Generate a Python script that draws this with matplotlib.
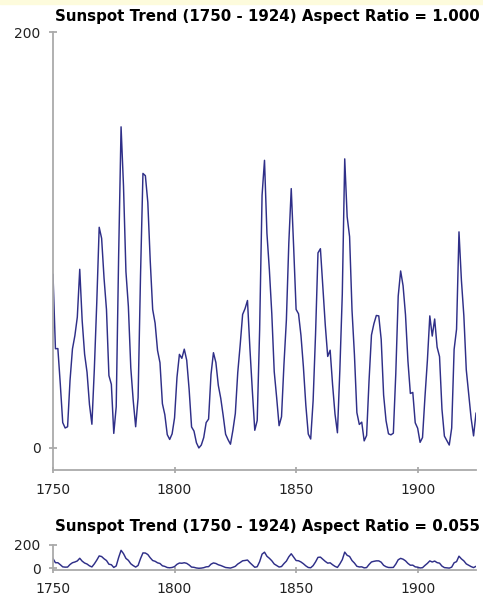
import matplotlib
matplotlib.use("Agg")
import matplotlib.pyplot as plt
from matplotlib.patches import Rectangle

# yearly mean sunspot numbers, 1750-1924
years = list(range(1750, 1925))
sunspots = [
    83.4, 47.7, 47.8, 30.7, 12.2, 9.6, 10.2, 32.4, 47.6, 54.0,
    62.9, 85.9, 61.2, 45.1, 36.4, 20.9, 11.4, 37.8, 69.8, 106.1,
    100.8, 81.6, 66.5, 34.8, 30.6, 7.0, 19.8, 92.5, 154.4, 125.9,
    84.8, 68.1, 38.5, 22.8, 10.2, 24.1, 82.9, 132.0, 130.9, 118.1,
    89.9, 66.6, 60.0, 46.9, 41.0, 21.3, 16.0, 6.4, 4.1, 6.8,
    14.5, 34.0, 45.0, 43.1, 47.5, 42.2, 28.1, 10.1, 8.1, 2.5,
    0.0, 1.4, 5.0, 12.2, 13.9, 35.4, 45.8, 41.1, 30.1, 23.9,
    15.6, 6.6, 4.0, 1.8, 8.5, 16.6, 36.3, 49.6, 64.2, 67.0,
    70.9, 47.8, 27.5, 8.5, 13.2, 56.9, 121.5, 138.3, 103.2, 85.7,
    64.6, 36.7, 24.2, 10.7, 15.0, 40.1, 61.5, 98.5, 124.7, 96.3,
    66.6, 64.5, 54.1, 39.0, 20.6, 6.7, 4.3, 22.7, 54.8, 93.8,
    95.8, 77.2, 59.1, 44.0, 47.0, 30.5, 16.3, 7.3, 37.6, 74.0,
    139.0, 111.2, 101.6, 66.2, 44.7, 17.0, 11.3, 12.4, 3.4, 6.0,
    32.3, 54.3, 59.7, 63.7, 63.5, 52.2, 25.4, 13.1, 6.8, 6.3,
    7.1, 35.6, 73.0, 85.1, 78.0, 64.0, 41.8, 26.2, 26.7, 12.1,
    9.5, 2.7, 5.0, 24.4, 42.0, 63.5, 53.8, 62.0, 48.5, 43.9,
    18.6, 5.7, 3.6, 1.4, 9.6, 47.4, 57.1, 103.9, 80.6, 63.6,
    37.6, 26.1, 14.2, 5.8, 16.7,
]
x_ticks = [1750, 1800, 1850, 1900]
y_ticks = [0, 200]

W, H = 483, 597
line_col = "#2f2f88"
axis_col = "#aaaaaa"
text_col = "#222222"

fig = plt.figure(figsize=(W / 100, H / 100), dpi=100)
fig.patches.append(Rectangle((0, 1 - 4 / H), 1, 4 / H, transform=fig.transFigure,
                             color="#fdfbdc", zorder=0))


def make_axes(rect, title, title_y):
    ax = fig.add_axes(rect)
    ax.plot(years, sunspots, color=line_col, lw=1.05)
    ax.set_xlim(1750, 1924)
    ax.set_ylim(-10.6, 200)
    ax.set_xticks(x_ticks)
    ax.set_yticks(y_ticks)
    for s in ["top", "right"]:
        ax.spines[s].set_visible(False)
    for s in ["left", "bottom"]:
        ax.spines[s].set_color(axis_col)
        ax.spines[s].set_linewidth(1.3)
    ax.spines["left"].set_bounds(-10.6, 200)
    ax.tick_params(axis="y", direction="inout", length=6, width=1.3, color=axis_col,
                   labelsize=10, labelcolor=text_col, pad=6)
    ax.tick_params(axis="x", direction="inout", length=4, width=1.3, color=axis_col,
                   labelsize=10, labelcolor=text_col, pad=7)
    fig.text(480 / W, 1 - title_y / H, title, ha="right", va="center",
             fontsize=10.8, fontweight="bold", color="black")
    return ax


# full-height view
make_axes([53 / W, (H - 470) / H, 423 / W, 438 / H],
          "Sunspot Trend (1750 - 1924) Aspect Ratio = 1.000", 16)

# banked view
make_axes([53 / W, (H - 569.5) / H, 423 / W, 24.5 / H],
          "Sunspot Trend (1750 - 1924) Aspect Ratio = 0.055", 526)

fig.savefig("out.png", dpi=100)
